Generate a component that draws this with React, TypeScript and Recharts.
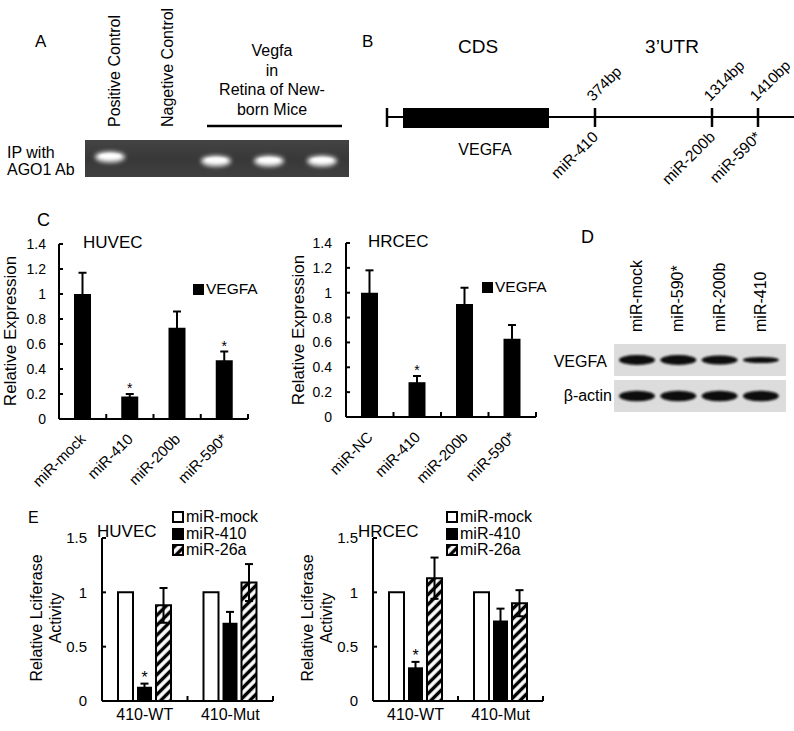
import { Bar, BarChart, ErrorBar, LabelList, Legend, XAxis, YAxis } from "recharts";

const FONT = '"Liberation Sans", Arial, Helvetica, sans-serif';

// ---- panel C: relative VEGFA expression ----
const huvecMirs = ["miR-mock", "miR-410", "miR-200b", "miR-590*"];
const hrcecMirs = ["miR-NC", "miR-410", "miR-200b", "miR-590*"];
const exprSeries = ["VEGFA"];
const huvecExpr = [1.0, 0.18, 0.73, 0.47];
const huvecExprErr = [0.17, 0.02, 0.13, 0.07];
const huvecExprSig = [false, true, false, true];
const hrcecExpr = [1.0, 0.28, 0.91, 0.63];
const hrcecExprErr = [0.18, 0.05, 0.13, 0.11];
const hrcecExprSig = [false, true, false, false];
const exprTicks = [0, 0.2, 0.4, 0.6, 0.8, 1, 1.2, 1.4];

// ---- panel E: luciferase activity ----
const constructs = ["410-WT", "410-Mut"];
const lucSeries = ["miR-mock", "miR-410", "miR-26a"];
const huvecLucMock = [1, 1];
const huvecLuc410 = [0.13, 0.72];
const huvecLuc410Err = [0.03, 0.1];
const huvecLuc26a = [0.88, 1.09];
const huvecLuc26aErr = [0.16, 0.17];
const huvecLucSig = [true, false];
const hrcecLucMock = [1, 1];
const hrcecLuc410 = [0.31, 0.74];
const hrcecLuc410Err = [0.05, 0.11];
const hrcecLuc26a = [1.13, 0.9];
const hrcecLuc26aErr = [0.19, 0.12];
const hrcecLucSig = [true, false];
const lucTicks = [0, 0.5, 1, 1.5];

// ---- panel A: gel ----
const gelLaneLabels = ["Positive Control", "Nagetive Control"];
const gelBands = [1, 0, 1, 1, 1];
const vegfaGroupLines = ["Vegfa", "in", "Retina of New-", "born Mice"];

// ---- panel B: 3'UTR map ----
const utrSites = ["374bp", "1314bp", "1410bp"];
const utrMirs = ["miR-410", "miR-200b", "miR-590*"];
const utrTickX = [595, 712, 758];

// ---- panel D: western blot ----
const blotLanes = ["miR-mock", "miR-590*", "miR-200b", "miR-410"];
const vegfaBand = [1, 1, 0.85, 0.45];
const actinBand = [1, 1, 1, 1];

function makeYTick(fontSize: number, gap: number) {
  return (props: any) => {
    const x = Number(props.x);
    const y = Number(props.y);
    return (
      <g>
        <line x1={x} x2={x + 4} y1={y} y2={y} stroke="#000" strokeWidth={2} />
        <text
          x={x - gap}
          y={y}
          dy={fontSize * 0.36}
          textAnchor="end"
          fontSize={fontSize}
          fontFamily={FONT}
          fill="#000"
        >
          {props.payload.value}
        </text>
      </g>
    );
  };
}

function makeCatTick(band: number, fontSize: number, rotated: boolean) {
  return (props: any) => {
    const x = Number(props.x);
    const y = Number(props.y);
    const bx = x + band / 2;
    return (
      <g>
        <line x1={bx} x2={bx} y1={y} y2={y - 5} stroke="#000" strokeWidth={2} />
        {rotated ? (
          <text
            transform={`translate(${x + 4},${y + 21}) rotate(-45)`}
            textAnchor="end"
            fontSize={fontSize}
            fontFamily={FONT}
            fill="#000"
          >
            {props.payload.value}
          </text>
        ) : (
          <text
            x={x}
            y={y + 19}
            textAnchor="middle"
            fontSize={fontSize}
            fontFamily={FONT}
            fill="#000"
          >
            {props.payload.value}
          </text>
        )}
      </g>
    );
  };
}

function makeStar(vals: number[], errs: number[], sig: boolean[], size: number) {
  return (props: any) => {
    const i = props.index;
    if (!sig[i]) return null;
    const x = Number(props.x);
    const y = Number(props.y);
    const w = Number(props.width);
    const h = Number(props.height);
    const errTop = y - (errs[i] * h) / vals[i];
    return (
      <text x={x + w / 2} y={errTop - 1} textAnchor="middle" fontSize={size} fontFamily={FONT} fill="#000">
        *
      </text>
    );
  };
}

function legendContent(order: string[], fontSize: number, box: number, rowH: number) {
  return (props: any) => {
    const items = [...(props.payload || [])].sort(
      (a: any, b: any) => order.indexOf(a.value) - order.indexOf(b.value)
    );
    return (
      <div style={{ fontFamily: FONT, fontSize, lineHeight: `${rowH}px`, color: "#000" }}>
        {items.map((entry: any) => (
          <div key={entry.value} style={{ display: "flex", alignItems: "center", height: rowH, whiteSpace: "nowrap" }}>
            <svg width={box} height={box} style={{ marginRight: 2, display: "block" }}>
              <rect x={1} y={1} width={box - 2} height={box - 2} fill={entry.color} stroke="#000" strokeWidth={2} />
            </svg>
            {entry.value}
          </div>
        ))}
      </div>
    );
  };
}

type ExprProps = {
  left: number;
  top: number;
  width: number;
  yAxisWidth: number;
  marginTop: number;
  marginRight: number;
  plotH: number;
  names: string[];
  values: number[];
  errs: number[];
  sig: boolean[];
  legendLeft: number;
  legendTop: number;
  tickGap: number;
};

function ExprChart(p: ExprProps) {
  const data = p.names.map((name, i) => ({ name, VEGFA: p.values[i], err: p.errs[i] }));
  const height = 290;
  const plotW = p.width - p.yAxisWidth - p.marginRight;
  const band = plotW / p.names.length;
  return (
    <div style={{ position: "absolute", left: p.left, top: p.top }}>
      <BarChart
        width={p.width}
        height={height}
        data={data}
        margin={{ top: p.marginTop, right: p.marginRight, left: 0, bottom: 0 }}
      >
        <XAxis
          dataKey="name"
          height={height - p.marginTop - p.plotH}
          interval={0}
          tickSize={0}
          tickMargin={0}
          tickLine={false}
          axisLine={{ stroke: "#000", strokeWidth: 2 }}
          tick={makeCatTick(band, 15, true)}
        />
        <YAxis
          type="number"
          width={p.yAxisWidth}
          domain={[0, 1.4]}
          ticks={exprTicks}
          allowDataOverflow
          interval={0}
          tickSize={0}
          tickMargin={0}
          tickLine={false}
          axisLine={{ stroke: "#000", strokeWidth: 2 }}
          tick={makeYTick(14, p.tickGap)}
        />
        <Legend
          layout="vertical"
          align="center"
          verticalAlign="middle"
          wrapperStyle={{ left: p.legendLeft, top: p.legendTop, width: 90 }}
          content={legendContent(exprSeries, 15.5, 11, 16)}
        />
        <Bar dataKey="VEGFA" name="VEGFA" fill="#000" barSize={17} isAnimationActive={false}>
          <ErrorBar dataKey="err" direction="y" width={4} stroke="#000" strokeWidth={2} isAnimationActive={false} />
          <LabelList dataKey="VEGFA" content={makeStar(p.values, p.errs, p.sig, 14)} />
        </Bar>
      </BarChart>
    </div>
  );
}

type LucProps = {
  left: number;
  top: number;
  width: number;
  yAxisWidth: number;
  marginRight: number;
  mock: number[];
  v410: number[];
  e410: number[];
  v26a: number[];
  e26a: number[];
  sig: boolean[];
  legendLeft: number;
};

function LucChart(p: LucProps) {
  const data = constructs.map((name, i) => ({
    name,
    "miR-mock": p.mock[i],
    "miR-410": p.v410[i],
    err410: p.e410[i],
    "miR-26a": p.v26a[i],
    err26a: p.e26a[i],
  }));
  const height = 241;
  const marginTop = 48;
  const plotH = 163;
  const plotW = p.width - p.yAxisWidth - p.marginRight;
  const band = plotW / constructs.length;
  return (
    <div style={{ position: "absolute", left: p.left, top: p.top }}>
      <BarChart
        width={p.width}
        height={height}
        data={data}
        margin={{ top: marginTop, right: p.marginRight, left: 0, bottom: 0 }}
        barSize={15}
        barGap={4}
      >
        <XAxis
          dataKey="name"
          height={height - marginTop - plotH}
          interval={0}
          tickSize={0}
          tickMargin={0}
          tickLine={false}
          axisLine={{ stroke: "#000", strokeWidth: 2 }}
          tick={makeCatTick(band, 16, false)}
        />
        <YAxis
          type="number"
          width={p.yAxisWidth}
          domain={[0, 1.5]}
          ticks={lucTicks}
          allowDataOverflow
          interval={0}
          tickSize={0}
          tickMargin={0}
          tickLine={false}
          axisLine={{ stroke: "#000", strokeWidth: 2 }}
          tick={makeYTick(15, 15)}
        />
        <Legend
          layout="vertical"
          align="center"
          verticalAlign="middle"
          wrapperStyle={{ left: p.legendLeft, top: 19, width: 100 }}
          content={legendContent(lucSeries, 16, 12, 16.5)}
        />
        <Bar dataKey={lucSeries[0]} fill="#fff" stroke="#000" strokeWidth={2} isAnimationActive={false} />
        <Bar dataKey={lucSeries[1]} fill="#000" isAnimationActive={false}>
          <ErrorBar dataKey="err410" direction="y" width={4} stroke="#000" strokeWidth={2} isAnimationActive={false} />
          <LabelList dataKey={lucSeries[1]} content={makeStar(p.v410, p.e410, p.sig, 16)} />
        </Bar>
        <Bar dataKey={lucSeries[2]} fill="url(#hatch)" stroke="#000" strokeWidth={2} isAnimationActive={false}>
          <ErrorBar dataKey="err26a" direction="y" width={4} stroke="#000" strokeWidth={2} isAnimationActive={false} />
        </Bar>
      </BarChart>
    </div>
  );
}

function Overlay() {
  const gelLaneX = (i: number) => 110 + i * 53;
  const blotLaneX = (i: number) => 637 + i * 41.3;
  return (
    <svg width={794} height={731} style={{ position: "absolute", left: 0, top: 0 }} fontFamily={FONT}>
      <defs>
        <pattern id="hatch" width={7} height={7} patternUnits="userSpaceOnUse" patternTransform="rotate(45)">
          <rect width={7} height={7} fill="#fff" />
          <line x1={3.5} y1={0} x2={3.5} y2={7} stroke="#000" strokeWidth={3.4} />
        </pattern>
        <filter id="gelGlow" x="-50%" y="-150%" width="200%" height="400%">
          <feGaussianBlur stdDeviation={2} />
        </filter>
        <filter id="blotBlur" x="-30%" y="-150%" width="160%" height="400%">
          <feGaussianBlur stdDeviation={1.3} />
        </filter>
        <linearGradient id="gelBg" x1="0" y1="0" x2="0" y2="1">
          <stop offset="0" stopColor="#444" />
          <stop offset="0.5" stopColor="#383838" />
          <stop offset="1" stopColor="#404040" />
        </linearGradient>
      </defs>

      {/* panel A */}
      <text x={35} y={47} fontSize={17}>A</text>
      {gelLaneLabels.map((t, i) => (
        <text key={t} transform={`translate(${gelLaneX(i) + 10},127) rotate(-90)`} fontSize={16}>
          {t}
        </text>
      ))}
      {vegfaGroupLines.map((t, i) => (
        <text key={t} x={272} y={56 + i * 19.5} textAnchor="middle" fontSize={16}>
          {t}
        </text>
      ))}
      <line x1={207} x2={342} y1={126} y2={126} stroke="#000" strokeWidth={2.5} />
      <text x={7} y={158} fontSize={16}>IP with</text>
      <text x={7} y={175} fontSize={16}>AGO1 Ab</text>
      <rect x={85} y={140} width={264} height={37} fill="url(#gelBg)" />
      {gelBands.map((b, i) =>
        b ? (
          <g key={i}>
            <ellipse cx={gelLaneX(i)} cy={i === 0 ? 157 : 161} rx={15} ry={5.5} fill="#e8e8e8" filter="url(#gelGlow)" />
            <ellipse cx={gelLaneX(i)} cy={i === 0 ? 156 : 160} rx={11} ry={2.5} fill="#fff" filter="url(#blotBlur)" />
          </g>
        ) : null
      )}

      {/* panel B */}
      <text x={362} y={47} fontSize={17}>B</text>
      <text x={478} y={53} textAnchor="middle" fontSize={19}>CDS</text>
      <text x={672} y={53} textAnchor="middle" fontSize={19}>3’UTR</text>
      <line x1={387} x2={794} y1={117} y2={117} stroke="#000" strokeWidth={2} />
      <line x1={387} x2={387} y1={108} y2={127} stroke="#000" strokeWidth={2.5} />
      <rect x={403} y={108} width={146} height={20} fill="#000" />
      <text x={485} y={155} textAnchor="middle" fontSize={16}>VEGFA</text>
      {utrSites.map((s, i) => (
        <g key={s}>
          <line x1={utrTickX[i]} x2={utrTickX[i]} y1={108} y2={127} stroke="#000" strokeWidth={2.5} />
          <text transform={`translate(${utrTickX[i] - 2},102) rotate(-45)`} fontSize={15}>
            {s}
          </text>
          <text transform={`translate(${utrTickX[i] + 4},138) rotate(-45)`} textAnchor="end" fontSize={15.5}>
            {utrMirs[i]}
          </text>
        </g>
      ))}

      {/* panel C */}
      <text x={37} y={226} fontSize={18}>C</text>
      <text x={83} y={248} fontSize={17}>HUVEC</text>
      <text x={368} y={247} fontSize={17}>HRCEC</text>
      <text transform="translate(16,331) rotate(-90)" textAnchor="middle" fontSize={17}>
        Relative Expression
      </text>
      <text transform="translate(304,330) rotate(-90)" textAnchor="middle" fontSize={17}>
        Relative Expression
      </text>

      {/* panel D */}
      <text x={581} y={243} fontSize={18}>D</text>
      {blotLanes.map((t, i) => (
        <text key={t} transform={`translate(${blotLaneX(i) + 5},332) rotate(-90)`} fontSize={16}>
          {t}
        </text>
      ))}
      <rect x={614} y={344} width={172} height={32} fill="#dcdcdc" />
      <rect x={614} y={380} width={172} height={32} fill="#dcdcdc" />
      {vegfaBand.map((v, i) => (
        <ellipse key={"v" + i} cx={blotLaneX(i)} cy={360} rx={18} ry={1.5 + 3.5 * v} fill="#0a0a0a" filter="url(#blotBlur)" />
      ))}
      {actinBand.map((v, i) => (
        <ellipse key={"a" + i} cx={blotLaneX(i)} cy={396} rx={18} ry={1.5 + 3.8 * v} fill="#0a0a0a" filter="url(#blotBlur)" />
      ))}
      <text x={607} y={367} textAnchor="end" fontSize={16}>VEGFA</text>
      <text x={612} y={401} textAnchor="end" fontSize={16}>β-actin</text>

      {/* panel E */}
      <text x={28} y={523} fontSize={16}>E</text>
      <text x={97} y={537} fontSize={17}>HUVEC</text>
      <text x={358} y={537} fontSize={17}>HRCEC</text>
      <text transform="translate(42,618) rotate(-90)" textAnchor="middle" fontSize={16}>
        Relative Lciferase
      </text>
      <text transform="translate(61,618) rotate(-90)" textAnchor="middle" fontSize={16}>
        Activity
      </text>
      <text transform="translate(313,618) rotate(-90)" textAnchor="middle" fontSize={16}>
        Relative Lciferase
      </text>
      <text transform="translate(332,618) rotate(-90)" textAnchor="middle" fontSize={16}>
        Activity
      </text>
    </svg>
  );
}

export default function App() {
  return (
    <div
      style={{
        position: "absolute",
        left: 0,
        top: 0,
        width: 794,
        height: 731,
        background: "#fff",
        overflow: "hidden",
        fontFamily: FONT,
      }}
    >
      <Overlay />
      <ExprChart
        left={0}
        top={200}
        width={262}
        yAxisWidth={59}
        marginTop={44}
        marginRight={14}
        plotH={175}
        names={huvecMirs}
        values={huvecExpr}
        errs={huvecExprErr}
        sig={huvecExprSig}
        legendLeft={193}
        legendTop={81}
        tickGap={13}
      />
      <ExprChart
        left={290}
        top={200}
        width={250}
        yAxisWidth={56}
        marginTop={43}
        marginRight={4}
        plotH={174}
        names={hrcecMirs}
        values={hrcecExpr}
        errs={hrcecExprErr}
        sig={hrcecExprSig}
        legendLeft={192}
        legendTop={79}
        tickGap={14}
      />
      <LucChart
        left={0}
        top={490}
        width={290}
        yAxisWidth={102}
        marginRight={17}
        mock={huvecLucMock}
        v410={huvecLuc410}
        e410={huvecLuc410Err}
        v26a={huvecLuc26a}
        e26a={huvecLuc26aErr}
        sig={huvecLucSig}
        legendLeft={172}
      />
      <LucChart
        left={290}
        top={490}
        width={290}
        yAxisWidth={83}
        marginRight={37}
        mock={hrcecLucMock}
        v410={hrcecLuc410}
        e410={hrcecLuc410Err}
        v26a={hrcecLuc26a}
        e26a={hrcecLuc26aErr}
        sig={hrcecLucSig}
        legendLeft={156}
      />
    </div>
  );
}
